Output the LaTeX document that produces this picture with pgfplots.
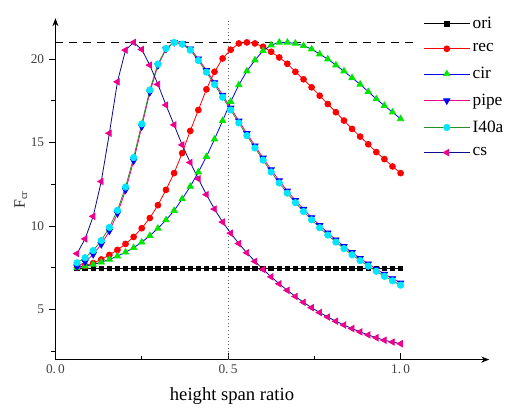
\documentclass[border=0pt]{standalone}
\usepackage{fontspec}
\setmainfont{Liberation Serif}
\usepackage{pgfplots}
\usepackage{pgfplotstable}
\usetikzlibrary{arrows.meta}
\pgfplotsset{compat=1.18}

\definecolor{navyline}{RGB}{10,10,140}
\definecolor{greenline}{RGB}{40,140,40}
\definecolor{cyanmark}{RGB}{0,230,255}
\definecolor{greenmark}{RGB}{0,230,0}

% x = height span ratio, columns = F_cr of each section
\pgfplotstableread{
x      ori  rec   cir   pipe  ifa   cs
0.0625 7.45 7.52  7.50  7.55  7.80  8.35
0.0859 7.45 7.62  7.60  7.85  8.10  9.23
0.1094 7.45 7.78  7.70  8.30  8.53  10.58
0.1328 7.45 8.00  7.83  8.90  9.13  12.67
0.1563 7.45 8.27  8.00  9.70  9.92  15.56
0.1797 7.45 8.57  8.20  10.75 10.94 18.64
0.2031 7.45 8.93  8.43  12.15 12.34 20.54
0.2266 7.45 9.35  8.70  13.90 14.10 21.00
0.2500 7.45 9.87  9.03  15.95 16.12 20.58
0.2734 7.45 10.48 9.42  18.00 18.15 19.64
0.2969 7.45 11.25 9.86  19.62 19.70 18.49
0.3203 7.45 12.17 10.36 20.60 20.64 17.25
0.3438 7.45 13.17 10.92 21.00 21.00 16.06
0.3672 7.45 14.37 11.62 20.95 20.90 14.86
0.3906 7.45 15.70 12.37 20.62 20.54 13.81
0.4141 7.45 16.95 13.23 20.02 19.92 12.83
0.4375 7.45 18.19 14.16 19.33 19.22 11.88
0.4609 7.45 19.24 15.20 18.60 18.48 11.02
0.4844 7.45 20.04 16.31 17.85 17.72 10.24
0.5078 7.45 20.56 17.45 17.08 16.95 9.57
0.5313 7.45 20.94 18.45 16.30 16.18 8.95
0.5547 7.45 21.00 19.28 15.55 15.42 8.40
0.5781 7.45 20.94 19.94 14.81 14.68 7.88
0.6016 7.45 20.74 20.50 14.08 13.95 7.40
0.6250 7.45 20.44 20.84 13.38 13.24 6.96
0.6484 7.45 20.10 21.00 12.72 12.58 6.54
0.6719 7.45 19.72 21.00 12.11 11.97 6.15
0.6953 7.45 19.24 20.94 11.54 11.40 5.78
0.7188 7.45 18.79 20.80 11.01 10.87 5.43
0.7422 7.45 18.31 20.60 10.51 10.37 5.11
0.7656 7.45 17.81 20.30 10.04 9.90  4.82
0.7891 7.45 17.31 20.00 9.60  9.46  4.55
0.8125 7.45 16.82 19.64 9.18  9.04  4.30
0.8359 7.45 16.32 19.28 8.79  8.65  4.07
0.8594 7.45 15.82 18.88 8.42  8.28  3.86
0.8828 7.45 15.36 18.49 8.07  7.93  3.66
0.9063 7.45 14.90 18.05 7.74  7.60  3.48
0.9297 7.45 14.43 17.61 7.43  7.29  3.31
0.9531 7.45 14.01 17.21 7.13  6.99  3.16
0.9766 7.45 13.57 16.82 6.86  6.72  3.05
1.0000 7.45 13.17 16.42 6.60  6.46  2.95
}\fcr

\begin{document}
\begin{tikzpicture}
\begin{axis}[
    scale only axis, width=326pt, height=256.5pt,
    xmin=0, xmax=1.257, ymin=2, ymax=22.45,
    axis lines=left,
    axis line style={black, line width=0.9pt, -{Stealth[length=6pt,width=4.5pt]}},
    xtick={0,0.5,1}, xticklabels={0.\,0,0.\,5,1.\,0},
    minor xtick={0.25,0.75},
    ytick={5,10,15,20}, minor ytick={2.5,7.5,12.5,17.5},
    xtick align=inside, ytick align=outside,
    major tick length=5pt, minor tick length=3pt,
    tick style={black, line width=0.7pt},
    tick label style={font=\fontsize{10}{12}\selectfont, text=black!75},
    /pgf/number format/assume math mode=true,
    xlabel={height span ratio},
    every axis x label/.style={at={(axis description cs:0.407,0)}, anchor=center, yshift=-27.5pt,
        minimum height=22.3pt, inner sep=0pt, font=\fontsize{14}{16}\selectfont},
    ylabel={F\textsubscript{cr}},
    every axis y label/.style={at={(axis description cs:0,0.468)}, rotate=90, anchor=center, yshift=26pt,
        minimum height=31.3pt, minimum width=300.3pt, inner sep=0pt,
        font=\fontsize{12}{14}\selectfont, text=black!80},
    legend style={at={(0.839,1.02)}, anchor=north west, draw=none, fill=none,
        font=\fontsize{13}{15}\selectfont, row sep=6pt, cells={anchor=west}},
    legend image code/.code={\draw[mark repeat=2,mark phase=2] plot coordinates {(0cm,0cm) (0.6cm,0cm) (1.2cm,0cm)};},
    clip=false,
]
\addplot[black, line width=1pt, dash pattern=on 6pt off 4.5pt, forget plot] coordinates {(0,21) (1.035,21)};
\addplot[black!60, dotted, line width=0.7pt, forget plot] coordinates {(0.5,2) (0.5,22.4)};

\addplot[black, line width=0.6pt, mark=square*, mark size=1.7pt] table[x=x, y=ori] {\fcr};
\addlegendentry{ori}
\addplot[red, line width=0.6pt, mark=*, mark size=2.2pt] table[x=x, y=rec] {\fcr};
\addlegendentry{rec}
\addplot[blue, line width=0.6pt, mark=triangle*, mark size=2.7pt, mark options={draw=greenmark, fill=greenmark}] table[x=x, y=cir] {\fcr};
\addlegendentry{cir}
\addplot[magenta, line width=0.6pt, mark=triangle*, mark size=2.7pt, mark options={rotate=180, draw=blue, fill=blue}] table[x=x, y=pipe] {\fcr};
\addlegendentry{pipe}
\addplot[greenline, line width=0.6pt, mark=*, mark size=2.4pt, mark options={draw=cyanmark, fill=cyanmark}] table[x=x, y=ifa] {\fcr};
\addlegendentry{I40a}
\addplot[navyline, line width=0.6pt, mark=triangle*, mark size=2.7pt, mark options={rotate=90, draw=magenta, fill=magenta}] table[x=x, y=cs] {\fcr};
\addlegendentry{cs}
\end{axis}
\end{tikzpicture}
\end{document}
